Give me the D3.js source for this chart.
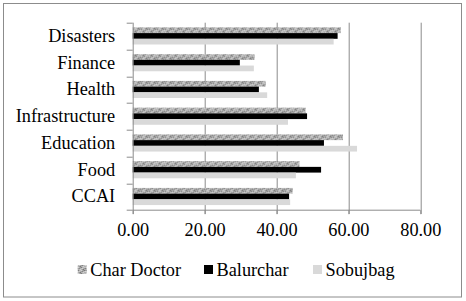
<!DOCTYPE html>
<html>
<head>
<meta charset="utf-8">
<script src="https://cdn.jsdelivr.net/npm/d3@7"></script>
<style>
  body { margin: 0; background: #fff; }
  svg { display: block; font-family: "Liberation Serif", "Times New Roman", serif; }
</style>
</head>
<body>
<div id="chart"></div>
<script>
// chart values
var categories = ["Disasters", "Finance", "Health", "Infrastructure", "Education", "Food", "CCAI"];
var seriesNames = ["Char Doctor", "Balurchar", "Sobujbag"];
var charDoctor = [57.9, 33.9, 37.0, 48.1, 58.5, 46.4, 44.5];
var balurchar = [57.0, 29.8, 35.1, 48.5, 53.2, 52.4, 43.5];
var sobujbag = [55.9, 33.7, 37.4, 43.2, 62.4, 45.4, 43.8];
var xTicks = [0, 20, 40, 60, 80];

var W = 466, H = 301;
var margin = { left: 132.7, right: 45.7, top: 22.7, bottom: 91 };
var FONT = "'Liberation Serif', 'Times New Roman', serif";
var FS = "18.3px";

var svg = d3.select("#chart").append("svg")
  .attr("width", W)
  .attr("height", H);

// speckled texture for the first series
var defs = svg.append("defs");
var pat = defs.append("pattern")
  .attr("id", "speckle")
  .attr("patternUnits", "userSpaceOnUse")
  .attr("width", 8)
  .attr("height", 6);
pat.append("rect").attr("width", 8).attr("height", 6).attr("fill", "#b0b0b0");
var specks = [
  [0, 0, "#6a6a6a"], [3, 0, "#e2e2e2"], [6, 0, "#5e5e5e"],
  [1, 1, "#d8d8d8"], [4, 1, "#737373"], [7, 1, "#e6e6e6"],
  [2, 2, "#626262"], [5, 2, "#dcdcdc"], [0, 3, "#e0e0e0"],
  [3, 3, "#686868"], [6, 3, "#d0d0d0"], [1, 4, "#7a7a7a"],
  [4, 4, "#e4e4e4"], [7, 4, "#6a6a6a"], [2, 5, "#dadada"],
  [5, 5, "#606060"]
];
pat.selectAll("rect.s").data(specks).enter().append("rect")
  .attr("class", "s")
  .attr("x", function(d) { return d[0]; })
  .attr("y", function(d) { return d[1]; })
  .attr("width", 1).attr("height", 1)
  .attr("fill", function(d) { return d[2]; });

var fills = ["url(#speckle)", "#000000", "#d9d9d9"];

// outer frame
svg.append("rect")
  .attr("x", 3.5).attr("y", 3.5)
  .attr("width", 458).attr("height", 293.5)
  .attr("fill", "none")
  .attr("stroke", "#8c8c8c")
  .attr("stroke-width", 1);

var plotW = W - margin.left - margin.right;
var plotH = H - margin.top - margin.bottom;
var g = svg.append("g").attr("transform", "translate(" + margin.left + "," + margin.top + ")");

var x = d3.scaleLinear().domain([0, 80]).range([0, plotW]);
var y = d3.scaleBand().domain(categories).range([0, plotH]);
var inner = d3.scaleBand().domain(seriesNames)
  .range([y.bandwidth() * 0.175, y.bandwidth() * 0.815]);

// vertical gridlines
g.selectAll("line.grid").data(xTicks.slice(1)).enter().append("line")
  .attr("class", "grid")
  .attr("x1", function(d) { return Math.round(x(d)) + 0.5; })
  .attr("x2", function(d) { return Math.round(x(d)) + 0.5; })
  .attr("y1", 0).attr("y2", plotH + 4)
  .attr("stroke", "#8c8c8c");

// bars
var values = [charDoctor, balurchar, sobujbag];
seriesNames.forEach(function(name, si) {
  g.selectAll("rect.s" + si).data(categories).enter().append("rect")
    .attr("class", "s" + si)
    .attr("x", x(0))
    .attr("y", function(c) { return y(c) + inner(name); })
    .attr("width", function(c, i) { return x(values[si][i]) - x(0); })
    .attr("height", inner.bandwidth())
    .attr("fill", fills[si]);
});

// y axis
var yAxis = d3.axisLeft(y).tickSize(0).tickPadding(17.5);
var ya = g.append("g").call(yAxis);
ya.select(".domain").remove();
ya.selectAll("text")
  .attr("font-size", FS)
  .attr("fill", "#000")
  .style("font-family", FONT);
// category boundary ticks
var bounds = d3.range(categories.length + 1).map(function(i) { return i * y.step(); });
g.selectAll("line.ytick").data(bounds).enter().append("line")
  .attr("class", "ytick")
  .attr("x1", -6).attr("x2", 0)
  .attr("y1", function(d) { return Math.round(d) + 0.5; })
  .attr("y2", function(d) { return Math.round(d) + 0.5; })
  .attr("stroke", "#8c8c8c");
g.append("line")
  .attr("x1", 0.5).attr("x2", 0.5)
  .attr("y1", 0).attr("y2", plotH + 4)
  .attr("stroke", "#8c8c8c");

// x axis
var xAxis = d3.axisBottom(x).tickValues(xTicks).tickSize(4).tickPadding(9)
  .tickFormat(d3.format(".2f"));
var xa = g.append("g")
  .attr("transform", "translate(0," + (Math.round(plotH) + 0.5) + ")")
  .call(xAxis);
xa.select(".domain").attr("stroke", "#8c8c8c").attr("d", "M0,0H" + x(80));
xa.selectAll(".tick line").attr("stroke", "#8c8c8c");
xa.selectAll("text")
  .attr("font-size", FS)
  .attr("fill", "#000")
  .style("font-family", FONT);

// legend
var legendX = [77.7, 204, 313];
var lg = svg.append("g").attr("transform", "translate(0,270)");
var item = lg.selectAll("g.item").data(seriesNames).enter().append("g")
  .attr("class", "item")
  .attr("transform", function(d, i) { return "translate(" + legendX[i] + ",0)"; });
item.append("rect")
  .attr("x", 0).attr("y", -5)
  .attr("width", 9).attr("height", 9)
  .attr("fill", function(d, i) { return fills[i]; });
item.append("text")
  .attr("x", 12.5)
  .attr("y", 0)
  .attr("dy", "0.35em")
  .attr("font-size", FS)
  .style("font-family", FONT)
  .text(function(d) { return d; });
</script>
</body>
</html>
